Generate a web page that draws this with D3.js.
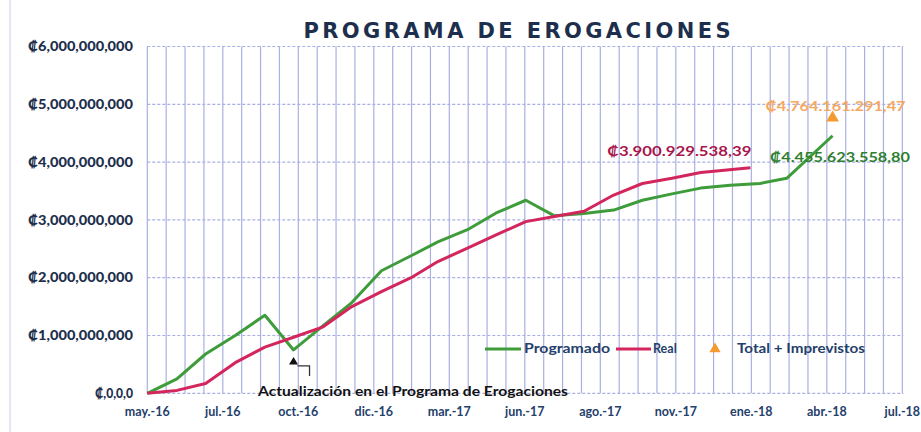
<!DOCTYPE html>
<html><head><meta charset="utf-8">
<script src="https://cdn.jsdelivr.net/npm/d3@7"></script>
<style>html,body{margin:0;padding:0;background:#fff;overflow:hidden}</style>
</head><body>
<svg id="c" width="921" height="432"></svg>
<script>
// ---- data ----
const programadoDates = ["2016-05-01","2016-06-01","2016-07-01","2016-08-01","2016-09-01","2016-10-01","2016-11-01","2016-12-01",
  "2017-01-01","2017-02-01","2017-03-01","2017-04-01","2017-05-01","2017-06-01","2017-07-01","2017-08-01","2017-09-01",
  "2017-10-01","2017-11-01","2017-12-01","2018-01-01","2018-02-01","2018-03-01","2018-04-18"];
const programado = [0, 0.25e9, 0.68e9, 1.0e9, 1.35e9, 0.75e9, 1.17e9, 1.57e9,
  2.12e9, 2.38e9, 2.62e9, 2.83e9, 3.12e9, 3.34e9, 3.07e9, 3.11e9, 3.17e9,
  3.34e9, 3.45e9, 3.55e9, 3.60e9, 3.63e9, 3.72e9, 4455623558.80];
const realDates = ["2016-05-01","2016-06-01","2016-07-01","2016-08-01","2016-09-01","2016-10-01","2016-11-01","2016-12-01",
  "2017-01-01","2017-02-01","2017-03-01","2017-04-01","2017-05-01","2017-06-01","2017-07-01","2017-08-01","2017-09-01",
  "2017-10-01","2017-11-01","2017-12-01","2018-01-22"];
const real = [0, 0.05e9, 0.17e9, 0.53e9, 0.80e9, 0.97e9, 1.15e9, 1.50e9,
  1.76e9, 2.00e9, 2.28e9, 2.51e9, 2.74e9, 2.97e9, 3.06e9, 3.15e9, 3.43e9,
  3.63e9, 3.72e9, 3.82e9, 3900929538.39];
const totalDate = "2018-04-18";
const totalImprevistos = 4764161291.47;
const yTicks = [0, 1e9, 2e9, 3e9, 4e9, 5e9, 6e9];
const yTickLabels = ["₡,0,0,0","₡1,000,000,000","₡2,000,000,000","₡3,000,000,000","₡4,000,000,000","₡5,000,000,000","₡6,000,000,000"];
const xTickLabels = ["may.-16","jul.-16","oct.-16","dic.-16","mar.-17","jun.-17","ago.-17","nov.-17","ene.-18","abr.-18","jul.-18"];
const labelReal = "₡3.900.929.538,39";
const labelProg = "₡4.455.623.558,80";
const labelTotal = "₡4.764.161.291,47";
const legendNames = ["Programado","Real","Total + Imprevistos"];
const titleText = "PROGRAMA DE EROGACIONES";
const noteText = "Actualización en el Programa de Erogaciones";

// ---- chart ----
const FONT = "Lato, 'Open Sans', sans-serif";
const svg = d3.select("#c");
const start = new Date("2016-05-01T00:00:00Z"), end = new Date("2018-07-01T00:00:00Z");
const x = d3.scaleUtc().domain([start, end]).range([147.3, 903.3]);
const y = d3.scaleLinear().domain([0, 6e9]).range([393.3, 46.5]);
const DAY = 864e5;
const green = "#3f9c3a", red = "#d3265c", orange = "#f59a2e", navy = "#1e2f4d";

// outer frame line
svg.append("line").attr("x1",10).attr("x2",10).attr("y1",0).attr("y2",432)
  .attr("stroke","#c9cde8").attr("stroke-width",1);

// vertical gridlines (minor every 19.75 days)
const gridDates = d3.range(41).map(i => new Date(start.getTime() + i*19.75*DAY));
svg.append("g").selectAll("line").data(gridDates).join("line")
  .attr("x1", d => x(d)).attr("x2", d => x(d)).attr("y1", y(6e9)).attr("y2", y(0))
  .attr("stroke", "#a9afe2").attr("stroke-width", 1.2);
// horizontal gridlines
svg.append("g").selectAll("line").data(yTicks).join("line")
  .attr("x1", x(start)).attr("x2", x(end)).attr("y1", d => y(d)).attr("y2", d => y(d))
  .attr("stroke", "#a9afe2").attr("stroke-width", 1.2).attr("stroke-dasharray","3,2");

// y axis labels
svg.append("g").selectAll("text").data(yTicks).join("text")
  .attr("x", 133).attr("y", d => y(d)).attr("dy","0.35em")
  .attr("text-anchor","end").attr("font-family",FONT).attr("font-weight","900")
  .attr("font-size","13.5px").attr("fill",navy)
  .attr("textLength", d => d === 0 ? 38 : 105).attr("lengthAdjust","spacingAndGlyphs")
  .text((d,i) => yTickLabels[i]);

// x axis labels
const tickDates = d3.range(11).map(i => new Date(start.getTime() + i*79*DAY));
svg.append("g").selectAll("text").data(tickDates).join("text")
  .attr("x", d => x(d)).attr("y", 412).attr("dy","0.35em")
  .attr("text-anchor","middle").attr("font-family",FONT).attr("font-weight","bold")
  .attr("font-size","12.5px").attr("fill","#24406a")
  .text((d,i) => xTickLabels[i]);

// title
svg.append("text").attr("x", 517).attr("y", 38).attr("text-anchor","middle")
  .attr("font-family","'DejaVu Sans', Verdana, sans-serif").attr("font-weight","bold").attr("font-size","21px")
  .attr("fill", navy).attr("textLength", 427).attr("lengthAdjust","spacing")
  .text(titleText);

// lines
const line = d3.line().x(d => x(d[0])).y(d => y(d[1]));
const progData = programadoDates.map((d,i) => [new Date(d+"T00:00:00Z"), programado[i]]);
const realData = realDates.map((d,i) => [new Date(d+"T00:00:00Z"), real[i]]);
svg.append("path").datum(progData).attr("d", line).attr("fill","none")
  .attr("stroke", green).attr("stroke-width", 3).attr("stroke-linejoin","round");
svg.append("path").datum(realData).attr("d", line).attr("fill","none")
  .attr("stroke", red).attr("stroke-width", 3).attr("stroke-linejoin","round");

// total + imprevistos marker
const tri = d3.symbol().type(d3.symbolTriangle).size(70);
const tx = x(new Date(totalDate+"T00:00:00Z")), ty = y(totalImprevistos);
svg.append("path").attr("d", tri()).attr("transform", `translate(${tx},${ty})`).attr("fill", orange);

// data labels
function lab(txt, xx, yy, col, len) {
  svg.append("text").attr("x", xx).attr("y", yy).attr("dy","0.35em")
    .attr("font-family",FONT).attr("font-weight","bold").attr("font-size","13.5px")
    .attr("fill", col).attr("textLength", len).attr("lengthAdjust","spacingAndGlyphs").text(txt);
}
lab(labelTotal, tx - 67, ty - 12, "#f5a862", 140);
lab(labelReal, x(new Date(realDates[realDates.length-1]+"T00:00:00Z")) - 143, y(real[real.length-1]) - 17, "#a8164c", 144);
lab(labelProg, 770, 157, "#2f7f2f", 140);

// annotation
svg.append("text").attr("x", 258).attr("y", 391).attr("dy","0.35em")
  .attr("font-family",FONT).attr("font-weight","bold").attr("font-size","13px")
  .attr("fill","#111").attr("textLength", 310).attr("lengthAdjust","spacingAndGlyphs").text(noteText);
const dipX = x(new Date(programadoDates[5]+"T00:00:00Z")), dipY = y(programado[5]);
svg.append("path").attr("d", `M${dipX},${dipY+7} l-4.5,7.5 l9,0 z`).attr("fill","#111");
svg.append("path").attr("d", `M${dipX+4},${dipY+16} L${dipX+16},${dipY+16} L${dipX+16},${dipY+26}`)
  .attr("fill","none").attr("stroke","#333").attr("stroke-width",1.3);

// legend
const lg = svg.append("g").attr("font-family",FONT).attr("font-weight","bold").attr("font-size","12.5px").attr("fill","#24406a");
lg.append("line").attr("x1",485).attr("x2",521).attr("y1",349).attr("y2",349).attr("stroke",green).attr("stroke-width",3);
lg.append("text").attr("x",524).attr("y",349).attr("dy","0.35em").attr("textLength",86).attr("lengthAdjust","spacingAndGlyphs").text(legendNames[0]);
lg.append("line").attr("x1",616).attr("x2",651).attr("y1",349).attr("y2",349).attr("stroke",red).attr("stroke-width",3);
lg.append("text").attr("x",653).attr("y",349).attr("dy","0.35em").text(legendNames[1]);
lg.append("path").attr("d", tri.size(55)()).attr("transform","translate(715,349)").attr("fill",orange);
lg.append("text").attr("x",737).attr("y",349).attr("dy","0.35em").attr("textLength",128).attr("lengthAdjust","spacingAndGlyphs").text(legendNames[2]);
</script>
</body></html>
